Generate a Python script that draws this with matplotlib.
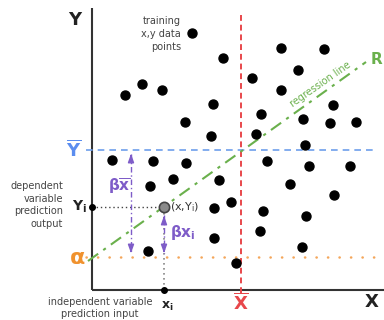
import matplotlib
matplotlib.use("Agg")
import matplotlib.pyplot as plt

# data (diagram units; y grows downward)
point_x = [192, 125, 142, 162, 185, 223, 281, 324, 298, 252, 281, 213, 333, 261, 303,
           330, 356, 211, 256, 305, 112, 153, 186, 267, 309, 350, 150, 173, 219, 290,
           334, 231, 214, 263, 306, 260, 214, 302, 236, 148]
point_y = [33, 95, 84, 90, 122, 58, 48, 49, 70, 78, 90, 104, 105, 114, 119,
           123, 122, 136, 134, 145, 160, 161, 163, 161, 166, 166, 186, 179, 180, 184,
           195, 202, 208, 211, 216, 231, 238, 247, 263, 251]
x_mean = 241
y_mean = 150
alpha_y = 257
xi, yi = 164, 207
reg_x = [88, 366]
reg_y = [261, 62]
axis_origin = (92, 290)

fig = plt.figure(figsize=(3.84, 3.2), dpi=100)
ax = fig.add_axes([0, 0, 1, 1])
ax.set_xlim(0, 384)
ax.set_ylim(320, 0)
ax.axis("off")

ox, oy = axis_origin
# axes
ax.plot([ox, ox], [8, oy], color="#333333", lw=1.5, solid_capstyle="butt")
ax.plot([ox, 384], [oy, oy], color="#333333", lw=1.5, solid_capstyle="butt")

# mean lines
ax.plot([86, 374], [y_mean, y_mean], color="#6d9eeb", lw=1.2, dashes=(4, 3))
ax.plot([x_mean, x_mean], [15, 296], color="#e8474b", lw=1.4, dashes=(3, 2))
ax.plot([86, 384], [alpha_y, alpha_y], color="#f4a65a", lw=1.8, dashes=(0.1, 4.5),
        dash_capstyle="round")

# regression line
ax.plot(reg_x, reg_y, color="#6ab04c", lw=1.5, dashes=(6, 3, 1.5, 3))

# guide lines for the example point
ax.plot([ox, xi - 5], [yi, yi], color="#444444", lw=1.0, dashes=(1, 2))
ax.plot([xi, xi], [yi + 6, oy], color="#888888", lw=1.2, dashes=(1, 2))

# purple arrows
purple = "#7e5cc8"
bx = 131
ax.plot([bx, bx], [y_mean + 4, alpha_y - 4], color=purple, lw=1.0, dashes=(4, 2, 1, 2))
ax.plot([xi, xi], [yi + 8, alpha_y - 4], color=purple, lw=1.0, dashes=(4, 2, 1, 2))
for x0, y0, y1 in [(bx, y_mean + 10, y_mean + 1), (bx, alpha_y - 10, alpha_y - 1),
                   (xi, yi + 14, yi + 6), (xi, alpha_y - 10, alpha_y - 1)]:
    ax.annotate("", xy=(x0, y1), xytext=(x0, y0),
                arrowprops=dict(arrowstyle="-|>,head_length=0.5,head_width=0.18",
                                color=purple, lw=1.0))

# data points
ax.scatter(point_x, point_y, s=42, color="black", zorder=5)
ax.scatter([xi], [yi], s=55, color="#8a8a8a", edgecolor="#444444", lw=1.2, zorder=6)
ax.scatter([ox, xi], [yi, oy], s=16, color="black", zorder=6)

# texts
ax.text(75, 20, "Y", fontsize=13, fontweight="bold", color="#222222", ha="center", va="center")
ax.text(372, 302, "X", fontsize=13, fontweight="bold", color="#222222", ha="center", va="center")
ax.text(74, 150, r"$\mathbf{\overline{Y}}$", fontsize=13, color="#5b8def", ha="center", va="center")
ax.text(241, 303, r"$\mathbf{\overline{X}}$", fontsize=13, color="#e8474b", ha="center", va="center")
ax.text(77, 258, r"$\mathbf{\alpha}$", fontsize=16, color="#f0922e", ha="center", va="center")
ax.text(376, 59, "R", fontsize=11, fontweight="bold", color="#6ab04c", ha="center", va="center")
ax.text(320, 84, "regression line", fontsize=7, color="#6ab04c", rotation=35,
        ha="center", va="center", rotation_mode="anchor")
ax.text(181, 34, "training\nx,y data\npoints", fontsize=7, color="#444444",
        ha="right", va="center", linespacing=1.35)
ax.text(63, 205, "dependent\nvariable\nprediction\noutput", fontsize=7, color="#444444",
        ha="right", va="center", linespacing=1.35)
ax.text(100, 297, "independent variable\nprediction input", fontsize=7, color="#444444",
        ha="center", va="top", linespacing=1.3)
ax.text(79, 207, r"$\mathbf{Y_i}$", fontsize=10, color="#222222", ha="center", va="center")
ax.text(167, 306, r"$\mathbf{x_i}$", fontsize=9, color="#222222", ha="center", va="center")
ax.text(170, 207, r"(x,Y$_\mathrm{i}$)", fontsize=8, color="#333333", ha="left", va="center")
ax.text(119, 186, r"$\mathbf{\beta\overline{x}}$", fontsize=11, color=purple, ha="center", va="center")
ax.text(183, 233, r"$\mathbf{\beta x_i}$", fontsize=11, color=purple, ha="center", va="center")

fig.savefig("out.png", dpi=100)
